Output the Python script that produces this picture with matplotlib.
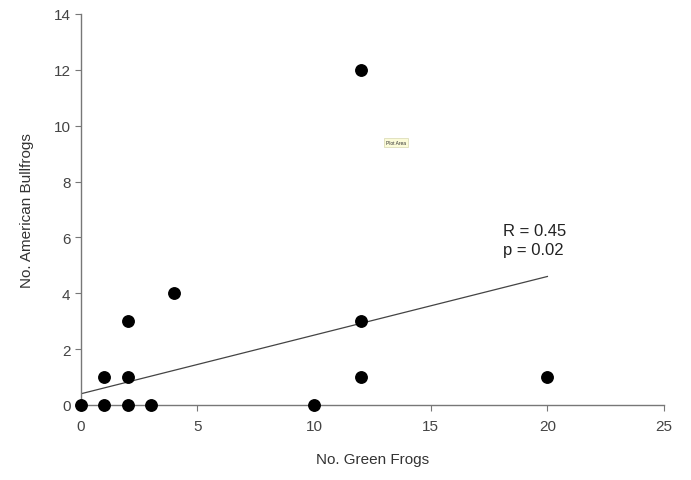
import matplotlib.pyplot as plt

plt.rcParams["font.family"] = ["Liberation Sans", "DejaVu Sans"]

# Counts per survey site
green_frogs = [0, 1, 2, 3, 10, 1, 2, 2, 4, 12, 12, 12, 20]
bullfrogs = [0, 0, 0, 0, 0, 1, 1, 3, 4, 12, 3, 1, 1]

# Least-squares trend line endpoints
trend_x = [0, 20]
trend_y = [0.4, 4.6]

x_ticks = [0, 5, 10, 15, 20, 25]
y_ticks = [0, 2, 4, 6, 8, 10, 12, 14]

fig = plt.figure(figsize=(6.91, 4.81), dpi=100)
ax = fig.add_axes([0.117, 0.156, 0.844, 0.813])

ax.plot(trend_x, trend_y, color="#444444", linewidth=0.9, zorder=2)
ax.scatter(green_frogs, bullfrogs, s=68, color="black", zorder=3, clip_on=False)

ax.set_xlim(0, 25)
ax.set_ylim(0, 14)
ax.set_xticks(x_ticks)
ax.set_yticks(y_ticks)

for side in ["top", "right"]:
    ax.spines[side].set_visible(False)
for side in ["left", "bottom"]:
    ax.spines[side].set_color("#777777")
    ax.spines[side].set_linewidth(1.0)

ax.tick_params(direction="out", length=4, color="#777777", labelcolor="#444444", labelsize=11)
ax.tick_params(axis="x", pad=6)

ax.set_xlabel("No. Green Frogs", fontsize=11, color="#333333", labelpad=14)
ax.set_ylabel("No. American Bullfrogs", fontsize=11, color="#333333", labelpad=14)

ax.text(18.1, 6.25, "R = 0.45", fontsize=12, color="#222222", va="center")
ax.text(18.1, 5.55, "p = 0.02", fontsize=12, color="#222222", va="center")

ax.text(13.5, 9.4, "Plot Area", fontsize=3.5, color="#333333", ha="center", va="center",
        bbox=dict(boxstyle="square,pad=0.4", facecolor="#fbfbd8", edgecolor="#d8d8b0", linewidth=0.5))

fig.savefig("out.png", dpi=100)
